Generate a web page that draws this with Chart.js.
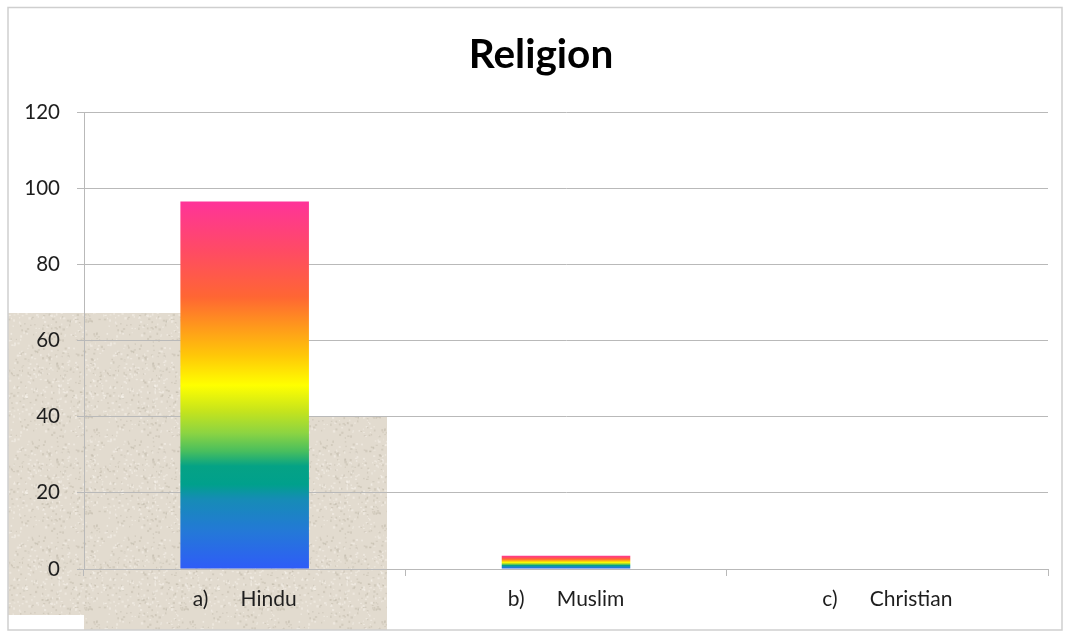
<!DOCTYPE html>
<html>
<head>
<meta charset="utf-8">
<title>Religion</title>
<script src="https://cdn.jsdelivr.net/npm/chart.js@4"></script>
<style>
  html, body { margin: 0; padding: 0; background: #ffffff; }
  #wrap { width: 1068px; height: 632px; position: relative; }
</style>
</head>
<body>
<div id="wrap"><canvas id="chart" width="1068" height="632"></canvas></div>
<script>
// Survey data: share of respondents by religion
const categories = ['a)      Hindu', 'b)      Muslim', 'c)      Christian'];
const shares = [96.5, 3.5, 0];
const yTicks = [0, 20, 40, 60, 80, 100, 120];
const chartTitle = 'Religion';

const GRID = '#b9b9b9';
const BEIGE = '#e2dbcf';

// Rainbow fill stops, from the base of a bar (0) to its top (1)
const rainbow = [
  [0.00, '#2f5cf8'],
  [0.10, '#2478d8'],
  [0.19, '#168cb6'],
  [0.23, '#00a08c'],
  [0.28, '#05a285'],
  [0.32, '#48be5e'],
  [0.37, '#8cd442'],
  [0.43, '#c6e41c'],
  [0.50, '#ffff00'],
  [0.58, '#ffc808'],
  [0.66, '#ff981c'],
  [0.74, '#ff6633'],
  [0.86, '#ff4c62'],
  [1.00, '#ff3399']
];

function barFill(ctx) {
  const chart = ctx.chart;
  if (!chart.chartArea || ctx.type !== 'data') return 'rgba(0,0,0,0)';
  const y = chart.scales.y;
  const top = y.getPixelForValue(ctx.raw);
  const base = y.getPixelForValue(0);
  if (base - top < 0.5) return 'rgba(0,0,0,0)';
  const g = chart.ctx.createLinearGradient(0, base, 0, top);
  rainbow.forEach(([p, c]) => g.addColorStop(p, c));
  return g;
}

// Speckled paper texture for the backdrop panel
function paperPattern(ctx) {
  const c = document.createElement('canvas');
  c.width = 96; c.height = 96;
  const p = c.getContext('2d');
  p.fillStyle = BEIGE;
  p.fillRect(0, 0, 96, 96);
  let s = 12345;
  const next = () => (s = (s * 1103515245 + 12345) % 2147483648) / 2147483648;
  for (let i = 0; i < 500; i++) {
    const x = next() * 96, yy = next() * 96;
    const dark = next() < 0.5;
    p.fillStyle = dark ? 'rgba(170,160,145,0.28)' : 'rgba(250,247,240,0.45)';
    p.fillRect(x, yy, 1 + next() * 1.5, 1 + next() * 1.5);
  }
  return ctx.createPattern(c, 'repeat');
}

const backdrop = {
  id: 'backdrop',
  beforeDraw(chart) {
    const ctx = chart.ctx;
    ctx.save();
    ctx.fillStyle = '#ffffff';
    ctx.fillRect(0, 0, chart.width, chart.height);
    ctx.fillStyle = paperPattern(ctx);
    ctx.beginPath();
    ctx.moveTo(8, 313);
    ctx.lineTo(245, 313);
    ctx.lineTo(245, 417);
    ctx.lineTo(387, 417);
    ctx.lineTo(387, 630);
    ctx.lineTo(84, 630);
    ctx.lineTo(84, 615);
    ctx.lineTo(8, 615);
    ctx.closePath();
    ctx.fill();
    ctx.restore();
  },
  afterDraw(chart) {
    const ctx = chart.ctx;
    ctx.save();
    // chart heading
    ctx.fillStyle = '#000000';
    ctx.font = 'bold 40.5px Lato';
    ctx.textAlign = 'center';
    ctx.textBaseline = 'alphabetic';
    ctx.fillText(chartTitle, 541, 68);
    // outer frame
    ctx.strokeStyle = '#cfcfcf';
    ctx.lineWidth = 1.5;
    ctx.strokeRect(8, 7.5, 1054, 622.5);
    ctx.restore();
  }
};

new Chart(document.getElementById('chart'), {
  type: 'bar',
  data: {
    labels: categories,
    datasets: [{
      label: chartTitle,
      data: shares,
      backgroundColor: barFill,
      borderWidth: 0,
      categoryPercentage: 1.0,
      barPercentage: 0.4
    }]
  },
  options: {
    responsive: false,
    animation: false,
    devicePixelRatio: 1,
    layout: { padding: { left: 8, right: 20, top: 112, bottom: 0 } },
    plugins: {
      legend: { display: false },
      tooltip: { enabled: false },
      title: { display: false }
    },
    scales: {
      x: {
        grid: {
          display: true,
          drawOnChartArea: false,
          drawTicks: true,
          tickLength: 7,
          color: GRID,
          offset: true
        },
        border: { display: true, color: GRID, width: 1 },
        ticks: {
          color: '#1e1e1e',
          font: { family: 'Lato', size: 21 },
          padding: 11,
          maxRotation: 0,
          autoSkip: false
        },
        afterFit(scale) { scale.height = 63; }
      },
      y: {
        min: 0,
        max: 120,
        afterBuildTicks(scale) { scale.ticks = yTicks.map(v => ({ value: v })); },
        grid: { color: GRID, tickLength: 7, lineWidth: 1 },
        border: { display: true, color: GRID, width: 1 },
        ticks: {
          color: '#1e1e1e',
          font: { family: 'Lato', size: 20.5 },
          padding: 17
        },
        afterFit(scale) { scale.width = 76; }
      }
    }
  },
  plugins: [backdrop]
});
</script>
</body>
</html>
